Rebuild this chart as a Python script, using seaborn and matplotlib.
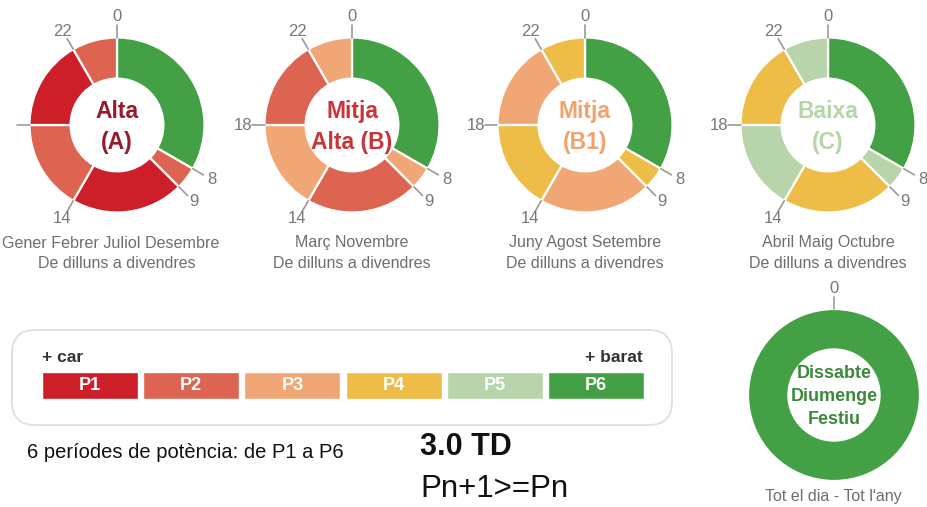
import numpy as np
import matplotlib
matplotlib.use("Agg")
import matplotlib.pyplot as plt
import seaborn as sns
import pandas as pd
from matplotlib.patches import FancyBboxPatch

# --- data ---
periods = ["P1", "P2", "P3", "P4", "P5", "P6"]
period_colors = ["#cc1f2a", "#dd6450", "#f1a775", "#eebd47", "#b8d4aa", "#44a045"]
color_of = dict(zip(periods, period_colors))

hour_marks = [0, 8, 9, 14, 18, 22]
block_hours = [8, 1, 5, 4, 4, 2]   # 0-8, 8-9, 9-14, 14-18, 18-22, 22-24

season_labels = ["Alta\n(A)", "Mitja\nAlta (B)", "Mitja\n(B1)", "Baixa\n(C)"]
season_label_colors = ["#951b2d", "#c9343a", "#f0a46b", "#b7d6a8"]
season_months = ["Gener Febrer Juliol Desembre", "Març Novembre",
                 "Juny Agost Setembre", "Abril Maig Octubre"]
season_periods = [
    ["P6", "P2", "P1", "P2", "P1", "P2"],
    ["P6", "P3", "P2", "P3", "P2", "P3"],
    ["P6", "P4", "P3", "P4", "P3", "P4"],
    ["P6", "P5", "P4", "P5", "P4", "P5"],
]
weekday_text = "De dilluns a divendres"

weekend_hours = [24]
weekend_periods = ["P6"]
weekend_marks = [0]

sns.set_theme(style="white")
plt.rcParams["font.family"] = ["Liberation Sans", "DejaVu Sans"]

W, H = 928, 507
fig = plt.figure(figsize=(W / 100, H / 100), dpi=100)
fig.patch.set_facecolor("white")


def px_axes(x, y, w, h):
    return fig.add_axes([x / W, 1 - (y + h) / H, w / W, h / H])


def donut(cx, cy, sizes, cols, marks, label, label_color, label_size,
          R=87.5, hide=(), lspace=1.45):
    S = 280
    ax = px_axes(cx - S / 2, cy - S / 2, S, S)
    lim = (S / 2) / R
    ax.pie(sizes, colors=cols, startangle=90, counterclock=False,
           wedgeprops=dict(width=0.47, edgecolor="white", linewidth=1.6))
    ax.set_xlim(-lim, lim)
    ax.set_ylim(-lim, lim)
    ax.set_aspect("equal")
    ax.axis("off")
    for h in marks:
        t = np.deg2rad(90 - h * 15)
        ax.plot([np.cos(t), 1.14 * np.cos(t)], [np.sin(t), 1.14 * np.sin(t)],
                color="#9a9a9a", lw=1.2, clip_on=False)
        if h in hide:
            continue  # label falls outside the picture
        ax.text(1.25 * np.cos(t), 1.24 * np.sin(t), str(h), ha="center",
                va="center", fontsize=12, color="#777777", clip_on=False)
    ax.text(0, -0.02, label, ha="center", va="center", fontsize=label_size,
            fontweight="bold", color=label_color, linespacing=lspace)
    return ax


centers_x = [117, 352, 585, 828]
for i in range(4):
    cols = [color_of[p] for p in season_periods[i]]
    donut(centers_x[i], 125, block_hours, cols, hour_marks,
          season_labels[i], season_label_colors[i], 16.5,
          hide=(18,) if i == 0 else ())
    if i == 0:
        fig.text(2 / W, 1 - 243 / H, season_months[i], ha="left", va="center",
                 fontsize=11.6, color="#6e6e6e")
    else:
        fig.text(centers_x[i] / W, 1 - 243 / H, season_months[i], ha="center",
                 va="center", fontsize=11.5, color="#6e6e6e")
    fig.text(centers_x[i] / W, 1 - 263 / H, weekday_text, ha="center",
             va="center", fontsize=11.5, color="#6e6e6e")

# weekend donut
donut(834, 395, weekend_hours, [color_of[p] for p in weekend_periods], weekend_marks,
      "Dissabte\nDiumenge\nFestiu", "#3b8a3b", 13, R=86, lspace=1.45)
fig.text(833 / W, 1 - 497 / H, "Tot el dia - Tot l'any", ha="center", va="center",
         fontsize=11.5, color="#6e6e6e")

# legend box
box = FancyBboxPatch((12 / W, 1 - 425 / H), 660 / W, 95 / H,
                     boxstyle="round,pad=0,rounding_size=0.025",
                     transform=fig.transFigure, facecolor="white",
                     edgecolor="#dedede", linewidth=1.3, mutation_aspect=W / H,
                     zorder=-5)
fig.patches.append(box)

legend_df = pd.DataFrame({"period": periods, "v": [1] * len(periods)})
lax = px_axes(39.5, 372, 607, 27)
lax.set_zorder(2)
sns.barplot(data=legend_df, x="period", y="v", hue="period", palette=period_colors,
            width=0.95, legend=False, ax=lax, saturation=1)
lax.set_xlim(-0.5, 5.5)
lax.set_ylim(0, 1)
lax.axis("off")
for i, p in enumerate(periods):
    lax.text(i, 0.5, p, ha="center", va="center", color="white",
             fontsize=13, fontweight="bold")

fig.text(42 / W, 1 - 358 / H, "+ car", ha="left", va="center", fontsize=12.5,
         fontweight="bold", color="#333333")
fig.text(643 / W, 1 - 358 / H, "+ barat", ha="right", va="center", fontsize=12.5,
         fontweight="bold", color="#333333")

fig.text(27 / W, 1 - 452 / H, "6 períodes de potència: de P1 a P6", ha="left",
         va="center", fontsize=14.5, color="#111111")
fig.text(420 / W, 1 - 447 / H, "3.0 TD", ha="left", va="center", fontsize=22,
         fontweight="bold", color="#111111")
fig.text(420 / W, 1 - 489 / H, "Pn+1>=Pn", ha="left", va="center", fontsize=22.5,
         color="#111111")

fig.savefig("out.png", dpi=100, facecolor="white")
